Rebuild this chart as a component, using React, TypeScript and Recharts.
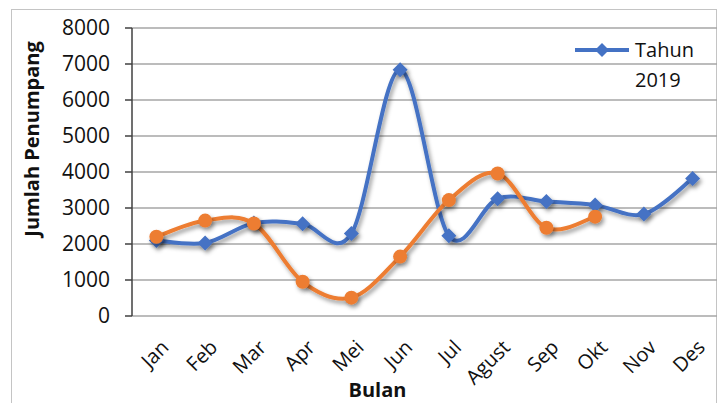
import React from "react";
import {
  LineChart,
  Line,
  XAxis,
  YAxis,
  CartesianGrid,
  Legend,
} from "recharts";

const months = ["Jan", "Feb", "Mar", "Apr", "Mei", "Jun", "Jul", "Agust", "Sep", "Okt", "Nov", "Des"];
const tahun2019 = [2100, 2030, 2580, 2560, 2290, 6840, 2230, 3260, 3180, 3080, 2830, 3820];
const tahun2018 = [2200, 2650, 2570, 950, 510, 1650, 3220, 3960, 2450, 2760, null, null];
const yTicks = [0, 1000, 2000, 3000, 4000, 5000, 6000, 7000, 8000];

const BLUE = "#4472C4";
const ORANGE = "#ED7D31";
const FONT = "'Open Sans', sans-serif";

const data = months.map((m, i) => ({
  x: i,
  month: m,
  t2019: tahun2019[i],
  t2018: tahun2018[i],
}));

// tick marks sit on category boundaries, labels on category centres
const boundaryTicks = [...months.map((_, i) => i - 0.5), months.length - 0.5];
const centerTicks = months.map((_, i) => i);

// Excel-like smoothed line (Catmull-Rom through the points)
function smoothCurve(context: any) {
  let pts: number[][] = [];
  return {
    areaStart() {},
    areaEnd() {},
    lineStart() {
      pts = [];
    },
    point(x: number, y: number) {
      pts.push([+x, +y]);
    },
    lineEnd() {
      if (!pts.length) return;
      context.moveTo(pts[0][0], pts[0][1]);
      if (pts.length === 1) {
        context.lineTo(pts[0][0], pts[0][1]);
        return;
      }
      for (let i = 0; i < pts.length - 1; i++) {
        const p0 = pts[i - 1] || pts[i];
        const p1 = pts[i];
        const p2 = pts[i + 1];
        const p3 = pts[i + 2] || p2;
        context.bezierCurveTo(
          p1[0] + (p2[0] - p0[0]) / 6,
          p1[1] + (p2[1] - p0[1]) / 6,
          p2[0] - (p3[0] - p1[0]) / 6,
          p2[1] - (p3[1] - p1[1]) / 6,
          p2[0],
          p2[1]
        );
      }
    },
  };
}

function DiamondDot(props: any) {
  const { cx, cy, index } = props;
  if (cx == null || cy == null) return <g key={`d-${index}`} />;
  const s = 7.5;
  return (
    <path
      key={`d-${index}`}
      d={`M${cx} ${cy - s}L${cx + s} ${cy}L${cx} ${cy + s}L${cx - s} ${cy}Z`}
      fill={BLUE}
    />
  );
}

function MonthTick(props: any) {
  const { x, y, payload } = props;
  const tx = x + 3;
  const ty = y + 22;
  return (
    <text
      x={tx}
      y={ty}
      dy="0.75em"
      textAnchor="end"
      transform={`rotate(-45 ${tx} ${ty})`}
      fill="#111"
      fontSize={20}
      fontFamily={FONT}
    >
      {months[payload.value]}
    </text>
  );
}

// only the 2019 series is listed in the legend
function renderLegend(props: any) {
  const items = props.payload || [];
  const item = items.find((p: any) => p.dataKey === "t2019") || items[0];
  if (!item) return null;
  const words = String(item.value).split(" ");
  return (
    <div style={{ display: "flex", alignItems: "flex-start", fontFamily: FONT, fontSize: 20, color: "#111" }}>
      <svg width={58} height={30}>
        <line x1={2} y1={15} x2={56} y2={15} stroke={BLUE} strokeWidth={4} />
        <path d="M29 8L36 15L29 22L22 15Z" fill={BLUE} />
      </svg>
      <div style={{ lineHeight: "30px", marginLeft: 4 }}>
        {words[0]}
        <br />
        {words.slice(1).join(" ")}
      </div>
    </div>
  );
}

export default function App() {
  return (
    <div
      style={{
        position: "absolute",
        left: 0,
        top: 0,
        width: 725,
        height: 403,
        overflow: "hidden",
        background: "#fff",
      }}
    >
      <style>{`.recharts-line-curve, .recharts-line-dots { filter: url(#soft-shadow); }`}</style>
      <svg width={0} height={0} style={{ position: "absolute" }}>
        <defs>
          <filter id="soft-shadow" x="-20%" y="-20%" width="140%" height="140%">
            <feDropShadow dx="2" dy="3" stdDeviation="2" floodColor="#000" floodOpacity="0.4" />
          </filter>
        </defs>
      </svg>
      <div
        style={{
          position: "absolute",
          left: 11,
          top: 9,
          width: 706,
          height: 420,
          border: "1px solid #c4c4c4",
          boxSizing: "border-box",
        }}
      />
      <LineChart
        width={725}
        height={403}
        data={data}
        margin={{ top: 28, right: 8, left: 62, bottom: 0 }}
        style={{ position: "absolute", left: 0, top: 0 }}
      >
        <CartesianGrid xAxisId="m" vertical={false} stroke="#a6a6a6" strokeWidth={1.3} />
        <XAxis
          xAxisId="grid"
          type="number"
          domain={[-0.5, months.length - 0.5]}
          ticks={boundaryTicks}
          interval={0}
          height={0}
          tick={false}
          tickSize={7}
          axisLine={{ stroke: "#404040", strokeWidth: 1.5 }}
          tickLine={{ stroke: "#404040", strokeWidth: 1.5 }}
        />
        <XAxis
          xAxisId="m"
          type="number"
          dataKey="x"
          domain={[-0.5, months.length - 0.5]}
          ticks={centerTicks}
          interval={0}
          height={87}
          axisLine={false}
          tickLine={false}
          tickSize={0}
          tickMargin={0}
          tick={<MonthTick />}
          label={(p: any) => {
            const vb = p.viewBox || {};
            return (
              <text
                x={vb.x + vb.width / 2 - 47}
                y={397}
                textAnchor="middle"
                fontSize={20}
                fontWeight="bold"
                fontFamily={FONT}
                fill="#111"
              >
                Bulan
              </text>
            );
          }}
        />
        <YAxis
          type="number"
          domain={[0, 8000]}
          ticks={yTicks}
          interval={0}
          width={70}
          tickSize={7}
          tickMargin={15}
          axisLine={{ stroke: "#404040", strokeWidth: 1.5 }}
          tickLine={{ stroke: "#404040", strokeWidth: 1.5 }}
          tick={{ fill: "#111", fontSize: 21, fontFamily: FONT }}
          label={(p: any) => {
            const vb = p.viewBox || {};
            const x = vb.x - 23;
            const y = 139;
            return (
              <text
                x={x}
                y={y}
                transform={`rotate(-90 ${x} ${y})`}
                textAnchor="middle"
                fontSize={20}
                fontWeight="bold"
                fontFamily={FONT}
                fill="#111"
              >
                Jumlah Penumpang
              </text>
            );
          }}
        />
        <Legend
          layout="vertical"
          align="center"
          verticalAlign="middle"
          content={renderLegend}
          wrapperStyle={{ left: 573, top: 35, width: 140 }}
        />
        <Line
          xAxisId="m"
          dataKey="t2019"
          name="Tahun 2019"
          type={smoothCurve as any}
          stroke={BLUE}
          strokeWidth={4}
          dot={DiamondDot}
          activeDot={false}
          isAnimationActive={false}
        />
        <Line
          xAxisId="m"
          dataKey="t2018"
          name="Tahun 2018"
          legendType="none"
          type={smoothCurve as any}
          stroke={ORANGE}
          strokeWidth={4}
          dot={{ r: 7, fill: ORANGE, stroke: "none" }}
          activeDot={false}
          isAnimationActive={false}
        />
      </LineChart>
    </div>
  );
}
